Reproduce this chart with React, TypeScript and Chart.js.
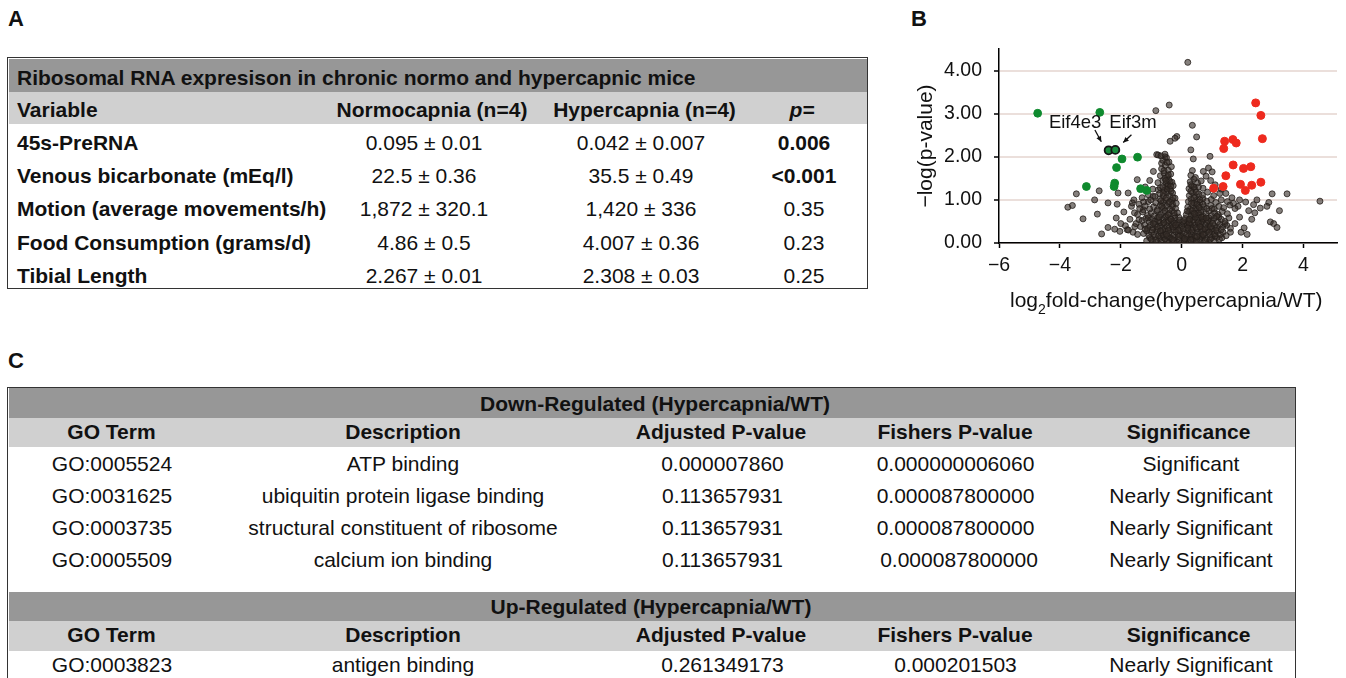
import React, { useEffect, useRef } from 'react';
import { Chart, registerables } from 'chart.js';

Chart.register(...registerables);

const FONT = '"Liberation Sans", Arial, Helvetica, sans-serif';

// ---------- Panel A data ----------
const tableATitle = 'Ribosomal RNA expresison in chronic normo and hypercapnic mice';
const tableAHeaders = ['Variable', 'Normocapnia (n=4)', 'Hypercapnia (n=4)', 'p='];
const variables = [
  '45s-PreRNA',
  'Venous bicarbonate (mEq/l)',
  'Motion (average movements/h)',
  'Food Consumption (grams/d)',
  'Tibial Length',
];
const normocapnia = ['0.095 ± 0.01', '22.5 ± 0.36', '1,872 ± 320.1', '4.86 ± 0.5', '2.267 ± 0.01'];
const hypercapnia = ['0.042 ± 0.007', '35.5 ± 0.49', '1,420 ± 336', '4.007 ± 0.36', '2.308 ± 0.03'];
const pValues = ['0.006', '<0.001', '0.35', '0.23', '0.25'];
const pBold = [true, true, false, false, false];

// ---------- Panel C data ----------
const goHeaders = ['GO Term', 'Description', 'Adjusted P-value', 'Fishers P-value', 'Significance'];
const downTitle = 'Down-Regulated (Hypercapnia/WT)';
const downTerms = ['GO:0005524', 'GO:0031625', 'GO:0003735', 'GO:0005509'];
const downDesc = ['ATP binding', 'ubiquitin protein ligase binding', 'structural constituent of ribosome', 'calcium ion binding'];
const downAdj = ['0.000007860', '0.113657931', '0.113657931', '0.113657931'];
const downFisher = ['0.000000006060', '0.000087800000', '0.000087800000', '0.000087800000'];
const downSig = ['Significant', 'Nearly Significant', 'Nearly Significant', 'Nearly Significant'];
const upTitle = 'Up-Regulated (Hypercapnia/WT)';
const upTerms = ['GO:0003823'];
const upDesc = ['antigen binding'];
const upAdj = ['0.261349173'];
const upFisher = ['0.000201503'];
const upSig = ['Nearly Significant'];

// ---------- Panel B data (log2 fold-change, -log p) ----------
const xTicks = [-6, -4, -2, 0, 2, 4];

const highlightedPoints: [number, number][] = [
  [-2.4, 2.15],
  [-2.18, 2.16],
];

const greenPoints: [number, number][] = [
  [-4.73, 3.01], [-2.69, 3.03], [-1.96, 1.95], [-1.45, 1.99], [-2.14, 1.75],
  [-3.13, 1.31], [-2.2, 1.39], [-2.22, 1.31], [-1.35, 1.26], [-1.15, 1.22],
];

const redPoints: [number, number][] = [
  [2.43, 3.25], [2.6, 2.96], [2.65, 2.42], [1.41, 2.36], [1.38, 2.19], [1.68, 2.4],
  [1.79, 2.32], [1.69, 1.81], [2.03, 1.73], [2.27, 1.77], [1.45, 1.56], [1.05, 1.27],
  [1.36, 1.31], [1.93, 1.36], [2.09, 1.22], [2.3, 1.34], [2.6, 1.41],
];

const grayPoints: [number, number][] = [
  // sparse outliers
  [0.2, 4.19], [-0.41, 3.2], [-0.85, 3.07], [0.35, 2.73], [-0.16, 2.47], [-0.38, 2.36],
  [-0.22, 2.43], [0.49, 2.46], [0.3, 2.16], [0.38, 1.95], [0.93, 2.01], [-0.82, 2.05],
  [0.71, 1.66], [0.88, 1.74], [-3.46, 1.14], [-2.71, 1.21], [-3.74, 0.83], [-3.59, 0.87],
  [-2.86, 1.0], [-3.24, 0.56], [-2.77, 0.67], [-2.42, 0.93], [-2.12, 0.9], [-2.63, 0.21],
  [-2.42, 0.36], [-2.2, 0.32], [-2.03, 0.27], [-2.15, 0.58], [-2.09, 1.16], [-1.76, 1.16],
  [-1.57, 1.0], [-0.93, 1.66], [-1.46, 1.47], [2.97, 1.14], [3.46, 1.14], [4.54, 0.97],
  [3.21, 0.75], [2.86, 0.94], [2.8, 0.85], [2.91, 0.49], [3.02, 0.45], [3.13, 0.36],
  [2.47, 1.0], [2.58, 0.81], [2.36, 0.89], [-1.65, 0.85], [-1.79, 0.31], [-1.54, 0.38],
  [-1.4, 0.54], [-1.26, 0.77], [-1.1, 0.96], [-0.94, 1.08], [-0.77, 1.23], [-0.77, 2.04],
  [-0.66, 1.85], [-0.55, 2.0],
  // halo left
  [-1.6, 0.25], [-1.5, 0.45], [-1.7, 0.55], [-1.55, 0.7], [-1.85, 0.4], [-1.4, 0.9],
  [-1.62, 0.93], [-1.3, 1.05], [-1.9, 0.72], [-1.45, 0.2], [-1.75, 0.3], [-2.0, 0.45],
  [-1.2, 1.3], [-1.05, 1.45],
  // halo right
  [1.6, 0.25], [1.75, 0.45], [1.9, 0.6], [2.05, 0.35], [2.2, 0.75], [1.85, 0.85],
  [2.1, 0.95], [1.65, 1.05], [2.3, 0.55], [1.45, 1.15], [1.3, 1.25], [1.95, 0.25],
  [2.4, 0.7], [2.15, 0.2], [1.1, 1.35], [0.95, 1.45], [1.0, 1.65], [0.8, 1.55],
  // core y 0-0.15
  [-1.05, 0.12], [-0.95, 0.05], [-0.88, 0.14], [-0.8, 0.03], [-0.72, 0.1], [-0.65, 0.02],
  [-0.58, 0.13], [-0.5, 0.06], [-0.43, 0.01], [-0.36, 0.11], [-0.29, 0.04], [-0.22, 0.13],
  [-0.15, 0.02], [-0.08, 0.08], [-0.02, 0.0], [0.05, 0.12], [0.11, 0.03], [0.18, 0.09],
  [0.25, 0.01], [0.31, 0.14], [0.38, 0.05], [0.45, 0.11], [0.52, 0.02], [0.6, 0.08],
  [0.67, 0.13], [0.74, 0.04], [0.82, 0.1], [0.9, 0.02], [0.98, 0.12], [1.06, 0.06],
  [1.15, 0.13], [1.24, 0.09],
  [-1.15, 0.05], [-1.0, 0.09], [-0.85, 0.07], [-0.68, 0.16], [-0.55, 0.09], [-0.4, 0.14],
  [-0.25, 0.06], [-0.05, 0.18], [0.08, 0.06], [0.22, 0.16], [0.35, 0.1], [0.48, 0.05],
  [0.62, 0.16], [0.78, 0.07], [0.94, 0.09], [1.1, 0.16], [1.32, 0.12],
  // core y 0.15-0.3
  [-1.25, 0.22], [-1.15, 0.28], [-1.08, 0.18], [-0.99, 0.25], [-0.91, 0.2], [-0.83, 0.29],
  [-0.76, 0.17], [-0.69, 0.24], [-0.61, 0.19], [-0.54, 0.27], [-0.47, 0.16], [-0.4, 0.23],
  [-0.33, 0.3], [-0.26, 0.18], [-0.19, 0.26], [-0.12, 0.2], [-0.05, 0.28], [0.02, 0.17],
  [0.09, 0.24], [0.16, 0.19], [0.23, 0.29], [0.3, 0.21], [0.37, 0.26], [0.44, 0.17],
  [0.51, 0.25], [0.58, 0.2], [0.65, 0.28], [0.72, 0.18], [0.79, 0.24], [0.86, 0.3],
  [0.93, 0.19], [1.0, 0.26], [1.08, 0.21], [1.17, 0.27], [1.27, 0.2], [1.36, 0.25],
  [1.46, 0.17],
  // core y 0.3-0.45
  [-1.35, 0.38], [-1.22, 0.42], [-1.12, 0.34], [-1.03, 0.41], [-0.94, 0.35], [-0.86, 0.44],
  [-0.78, 0.32], [-0.7, 0.39], [-0.62, 0.45], [-0.55, 0.33], [-0.48, 0.4], [-0.41, 0.36],
  [-0.34, 0.44], [-0.27, 0.31], [-0.2, 0.38], [-0.13, 0.43], [-0.06, 0.34], [0.01, 0.4],
  [0.08, 0.45], [0.15, 0.32], [0.22, 0.39], [0.29, 0.44], [0.36, 0.35], [0.43, 0.41],
  [0.5, 0.33], [0.57, 0.43], [0.64, 0.37], [0.71, 0.31], [0.78, 0.42], [0.85, 0.36],
  [0.92, 0.44], [0.99, 0.33], [1.07, 0.4], [1.16, 0.35], [1.25, 0.43], [1.35, 0.37],
  [1.48, 0.41], [1.6, 0.34],
  [-1.2, 0.32], [-0.97, 0.3], [-0.8, 0.37], [-0.63, 0.3], [-0.44, 0.29], [-0.28, 0.37],
  [-0.1, 0.3], [0.05, 0.33], [0.18, 0.42], [0.33, 0.3], [0.47, 0.36], [0.62, 0.45],
  [0.76, 0.33], [0.95, 0.38], [1.12, 0.3], [1.3, 0.31], [1.42, 0.45],
  // y 0.45-0.6
  [-1.3, 0.52], [-1.18, 0.57], [-1.06, 0.49], [-0.97, 0.55], [-0.88, 0.5], [-0.79, 0.59],
  [-0.7, 0.47], [-0.62, 0.54], [-0.54, 0.6], [-0.46, 0.48], [-0.38, 0.56], [-0.3, 0.51],
  [-0.22, 0.58], [-0.14, 0.47], [-0.06, 0.53], [0.04, 0.49], [0.12, 0.57], [0.2, 0.5],
  [0.28, 0.55], [0.35, 0.6], [0.42, 0.48], [0.5, 0.54], [0.58, 0.59], [0.66, 0.5],
  [0.74, 0.56], [0.82, 0.48], [0.9, 0.58], [0.98, 0.52], [1.07, 0.57], [1.18, 0.49],
  [1.3, 0.55], [1.42, 0.5], [1.55, 0.58],
  [-1.1, 0.58], [-0.93, 0.45], [-0.75, 0.52], [-0.58, 0.47], [-0.42, 0.52], [-0.26, 0.47],
  [-0.1, 0.6], [0.08, 0.52], [0.24, 0.46], [0.38, 0.53], [0.54, 0.47], [0.7, 0.55],
  [0.86, 0.52], [1.02, 0.46], [1.22, 0.6],
  // y 0.6-0.75
  [-1.45, 0.66], [-1.28, 0.72], [-1.12, 0.64], [-1.0, 0.7], [-0.9, 0.63], [-0.8, 0.74],
  [-0.7, 0.66], [-0.6, 0.71], [-0.5, 0.62], [-0.41, 0.69], [-0.32, 0.75], [-0.23, 0.64],
  [-0.14, 0.7], [0.15, 0.66], [0.23, 0.73], [0.31, 0.63], [0.39, 0.7], [0.47, 0.75],
  [0.55, 0.65], [0.63, 0.71], [0.71, 0.62], [0.8, 0.68], [0.89, 0.74], [0.98, 0.64],
  [1.08, 0.7], [1.2, 0.66], [1.33, 0.73], [1.5, 0.68],
  // y 0.75-0.9
  [-1.38, 0.8], [-1.2, 0.86], [-1.05, 0.79], [-0.92, 0.84], [-0.8, 0.77], [-0.7, 0.88],
  [-0.6, 0.81], [-0.5, 0.86], [-0.4, 0.78], [-0.3, 0.85], [-0.2, 0.8], [0.2, 0.83],
  [0.28, 0.78], [0.37, 0.87], [0.46, 0.8], [0.55, 0.85], [0.64, 0.77], [0.73, 0.84],
  [0.83, 0.8], [0.95, 0.87], [1.07, 0.79], [1.22, 0.85], [1.38, 0.82], [1.58, 0.88],
  [1.75, 0.8],
  // y 0.9-1.05
  [-1.25, 0.95], [-1.02, 1.0], [-0.85, 0.93], [-0.72, 1.02], [-0.62, 0.94], [-0.52, 1.0],
  [-0.42, 0.92], [-0.32, 0.99], [-0.22, 1.04], [0.22, 0.96], [0.31, 1.02], [0.4, 0.93],
  [0.5, 1.0], [0.6, 0.95], [0.7, 1.03], [0.82, 0.97], [0.97, 1.01], [1.12, 0.94],
  [1.3, 1.0], [1.5, 0.96], [1.7, 0.92], [1.9, 1.0],
  // y 1.05-1.2
  [-1.1, 1.12], [-0.88, 1.08], [-0.72, 1.15], [-0.6, 1.09], [-0.5, 1.17], [-0.4, 1.1],
  [-0.3, 1.16], [0.25, 1.1], [0.35, 1.17], [0.45, 1.08], [0.56, 1.14], [0.68, 1.11],
  [0.85, 1.18], [1.05, 1.1], [1.25, 1.15],
  // y 1.2-1.35
  [-0.95, 1.25], [-0.7, 1.28], [-0.58, 1.22], [-0.48, 1.31], [-0.38, 1.25], [-0.28, 1.33],
  [0.24, 1.26], [0.34, 1.32], [0.44, 1.24], [0.55, 1.3], [0.7, 1.27],
  // y 1.35-1.5
  [-0.78, 1.4], [-0.62, 1.45], [-0.52, 1.38], [-0.42, 1.47], [-0.32, 1.41], [0.28, 1.42],
  [0.4, 1.48], [0.52, 1.39], [0.64, 1.44],
  // y 1.5-1.65
  [-0.7, 1.56], [-0.58, 1.62], [-0.47, 1.54], [-0.36, 1.6], [0.3, 1.57], [0.45, 1.52],
  // y 1.65-2.1
  [-0.66, 1.72], [-0.54, 1.8], [-0.44, 1.69], [-0.34, 1.77], [0.35, 1.68],
  [-0.62, 1.92], [-0.5, 1.98], [-0.42, 1.88], [-0.68, 2.02], [-0.55, 2.06],
  // arm fill
  [-0.55, 1.5], [-0.45, 1.35], [-0.35, 1.2], [-0.6, 1.15], [-0.5, 1.05], [-0.4, 0.95],
  [-0.3, 0.9], [-0.55, 0.75], [-0.45, 0.65], [-0.35, 0.55], [-0.25, 0.7], [-0.65, 0.85],
  [-0.48, 1.25], [-0.38, 1.42], [0.3, 1.2], [0.4, 1.05], [0.5, 0.9], [0.35, 0.75],
  [0.45, 0.6], [0.25, 0.55], [0.55, 0.7], [0.6, 1.0], [0.4, 1.3],
  [-0.62, 1.3], [-0.52, 1.45], [-0.44, 1.58], [-0.58, 1.68], [-0.48, 1.87], [-0.36, 1.32],
  [-0.28, 1.05], [-0.18, 0.92], [-0.68, 0.98], [-0.75, 0.6], [0.3, 1.35], [0.48, 1.18],
  [0.58, 0.82], [0.7, 0.9], [0.32, 0.92], [0.42, 0.68], [0.18, 0.74], [0.66, 0.6],
  [0.8, 0.58], [1.0, 0.8], [1.15, 0.62],
  // core extra
  [-0.3, 0.08], [-0.1, 0.15], [0.1, 0.1], [0.3, 0.07], [0.5, 0.15], [0.7, 0.2],
  [-0.5, 0.2], [-0.7, 0.28], [0.9, 0.25], [0.2, 0.35], [-0.2, 0.42], [0.6, 0.38],
];

const geneLabels = [
  { text: 'Eif4e3', at: [-3.5, 2.66], from: [-2.85, 2.62], to: [-2.64, 2.35] },
  { text: 'Eif3m', at: [-1.6, 2.66], from: [-1.65, 2.51], to: [-1.92, 2.33] },
];

// ---------- helpers ----------
type TxtProps = {
  x: number; base: number; size?: number; bold?: boolean; italic?: boolean;
  center?: boolean; children: React.ReactNode;
};
function Txt({ x, base, size = 21, bold = false, italic = false, center = false, children }: TxtProps) {
  const style: React.CSSProperties = {
    position: 'absolute',
    top: base - size * 0.8465,
    fontSize: size,
    lineHeight: `${size}px`,
    fontWeight: bold ? 700 : 400,
    fontStyle: italic ? 'italic' : 'normal',
    whiteSpace: 'nowrap',
    color: '#111',
  };
  if (center) {
    style.left = x - 300;
    style.width = 600;
    style.textAlign = 'center';
  } else {
    style.left = x;
  }
  return <div style={style}>{children}</div>;
}

function Band({ top, height, left, width, color }: { top: number; height: number; left: number; width: number; color: string }) {
  return <div style={{ position: 'absolute', top, left, width, height, background: color }} />;
}

const DARK = '#979797';
const LIGHT = '#d0d0d0';

function TableA() {
  const rowBases = [150, 183, 216, 249.3, 282.3];
  return (
    <>
      <div style={{ position: 'absolute', left: 7, top: 57, width: 861, height: 232, border: '1.5px solid #333', boxSizing: 'border-box' }} />
      <Band top={58.5} height={33} left={8.5} width={858} color={DARK} />
      <Band top={91.5} height={32.5} left={8.5} width={858} color={LIGHT} />
      <Txt x={17} base={84.3} bold>{tableATitle}</Txt>
      <Txt x={17} base={116.7} bold>{tableAHeaders[0]}</Txt>
      <Txt x={432} base={116.7} bold center>{tableAHeaders[1]}</Txt>
      <Txt x={644.5} base={116.7} bold center>{tableAHeaders[2]}</Txt>
      <Txt x={802} base={116.7} bold italic center>{tableAHeaders[3]}</Txt>
      {variables.map((v, i) => (
        <React.Fragment key={v}>
          <Txt x={17} base={rowBases[i]} bold>{v}</Txt>
          <Txt x={424} base={rowBases[i]} center>{normocapnia[i]}</Txt>
          <Txt x={641} base={rowBases[i]} center>{hypercapnia[i]}</Txt>
          <Txt x={804} base={rowBases[i]} bold={pBold[i]} center>{pValues[i]}</Txt>
        </React.Fragment>
      ))}
    </>
  );
}

function TableC() {
  const colX = [112, 403, 722.5, 955.5, 1191];
  const hdrX = [111.5, 403, 721, 955, 1188.5];
  const downBases = [471, 502.6, 534.5, 566.7];
  const fisherShift = [0, 0, 0, 3.5];
  return (
    <>
      <div style={{ position: 'absolute', left: 7, top: 386.5, width: 1289, height: 320, border: '1.5px solid #333', boxSizing: 'border-box' }} />
      <Band top={388} height={29.5} left={8.5} width={1286} color={DARK} />
      <Band top={417.5} height={29.5} left={8.5} width={1286} color={LIGHT} />
      <Band top={592.3} height={28.7} left={8.5} width={1286} color={DARK} />
      <Band top={621} height={30} left={8.5} width={1286} color={LIGHT} />
      <Txt x={655} base={410.3} bold center>{downTitle}</Txt>
      {goHeaders.map((h, i) => (
        <Txt key={'dh' + h} x={hdrX[i]} base={438.5} bold center>{h}</Txt>
      ))}
      {downTerms.map((t, i) => (
        <React.Fragment key={t}>
          <Txt x={colX[0]} base={downBases[i]} center>{t}</Txt>
          <Txt x={colX[1]} base={downBases[i]} center>{downDesc[i]}</Txt>
          <Txt x={colX[2]} base={downBases[i]} center>{downAdj[i]}</Txt>
          <Txt x={colX[3] + fisherShift[i]} base={downBases[i]} center>{downFisher[i]}</Txt>
          <Txt x={colX[4]} base={downBases[i]} center>{downSig[i]}</Txt>
        </React.Fragment>
      ))}
      <Txt x={651} base={613.5} bold center>{upTitle}</Txt>
      {goHeaders.map((h, i) => (
        <Txt key={'uh' + h} x={hdrX[i]} base={641.8} bold center>{h}</Txt>
      ))}
      {upTerms.map((t, i) => (
        <React.Fragment key={t}>
          <Txt x={colX[0]} base={671.8} center>{t}</Txt>
          <Txt x={colX[1]} base={671.8} center>{upDesc[i]}</Txt>
          <Txt x={colX[2]} base={671.8} center>{upAdj[i]}</Txt>
          <Txt x={colX[3]} base={671.8} center>{upFisher[i]}</Txt>
          <Txt x={colX[4]} base={671.8} center>{upSig[i]}</Txt>
        </React.Fragment>
      ))}
    </>
  );
}

const labelPlugin = {
  id: 'geneLabels',
  afterDatasetsDraw(chart: any) {
    const { ctx, scales } = chart;
    const xs = scales.x;
    const ys = scales.y;
    ctx.save();
    ctx.font = `18.5px ${FONT}`;
    ctx.fillStyle = '#111';
    ctx.textAlign = 'center';
    ctx.textBaseline = 'alphabetic';
    ctx.strokeStyle = '#111';
    ctx.lineWidth = 1.3;
    for (const g of geneLabels) {
      ctx.fillStyle = '#111';
      ctx.fillText(g.text, xs.getPixelForValue(g.at[0]), ys.getPixelForValue(g.at[1]));
      const x1 = xs.getPixelForValue(g.from[0]);
      const y1 = ys.getPixelForValue(g.from[1]);
      const x2 = xs.getPixelForValue(g.to[0]);
      const y2 = ys.getPixelForValue(g.to[1]);
      ctx.beginPath();
      ctx.moveTo(x1, y1);
      ctx.lineTo(x2, y2);
      ctx.stroke();
      const ang = Math.atan2(y2 - y1, x2 - x1);
      const len = 6;
      ctx.beginPath();
      ctx.moveTo(x2, y2);
      ctx.lineTo(x2 - len * Math.cos(ang - 0.45), y2 - len * Math.sin(ang - 0.45));
      ctx.lineTo(x2 - len * Math.cos(ang + 0.45), y2 - len * Math.sin(ang + 0.45));
      ctx.closePath();
      ctx.fill();
    }
    ctx.restore();
  },
};

function Volcano() {
  const ref = useRef<HTMLCanvasElement>(null);
  useEffect(() => {
    const toXY = (arr: [number, number][]) => arr.map(([x, y]) => ({ x, y }));
    const chart = new Chart(ref.current as HTMLCanvasElement, {
      type: 'scatter',
      data: {
        datasets: [
          {
            label: 'Eif genes',
            data: toXY(highlightedPoints),
            pointRadius: 4,
            backgroundColor: '#17893a',
            borderColor: '#151515',
            borderWidth: 1.8,
          },
          {
            label: 'Down',
            data: toXY(greenPoints),
            pointRadius: 3.9,
            backgroundColor: '#0f8a2e',
            borderColor: '#0f8a2e',
            borderWidth: 1,
          },
          {
            label: 'Up',
            data: toXY(redPoints),
            pointRadius: 4,
            backgroundColor: '#ee2a1e',
            borderColor: '#ee2a1e',
            borderWidth: 1,
          },
          {
            label: 'NS',
            data: toXY(grayPoints),
            pointRadius: 3,
            backgroundColor: 'rgba(52,44,39,0.6)',
            borderColor: 'rgba(36,30,26,0.8)',
            borderWidth: 1,
          },
        ],
      },
      options: {
        animation: false,
        responsive: false,
        events: [],
        layout: { padding: { top: 9, right: 9, bottom: 0, left: 0 } },
        plugins: { legend: { display: false }, tooltip: { enabled: false } },
        scales: {
          x: {
            type: 'linear',
            min: -6,
            max: 5.1,
            afterBuildTicks: (s: any) => {
              s.ticks = xTicks.map((v) => ({ value: v }));
            },
            ticks: {
              font: { family: FONT, size: 19.5 },
              color: '#111',
              padding: 6,
              maxRotation: 0,
              callback: (v: any) => (Number(v) < 0 ? '\u2212' + Math.abs(Number(v)) : String(v)),
            },
            grid: { drawOnChartArea: false, tickLength: 5, tickColor: '#000', tickWidth: 1.5 },
            border: { color: '#000', width: 1.5 },
            afterFit: (s: any) => {
              s.height = 47;
              s.paddingLeft = 0;
              s.paddingRight = 0;
            },
          },
          y: {
            type: 'linear',
            min: 0,
            max: 4.5,
            ticks: {
              stepSize: 0.5,
              font: { family: FONT, size: 19.5 },
              color: '#111',
              padding: 12,
              callback: (v: any) => (Math.abs(Number(v) - Math.round(Number(v))) < 1e-6 ? Number(v).toFixed(2) : ''),
            },
            grid: { color: '#ebdfdb', lineWidth: 2, tickLength: 5, tickColor: '#000', tickWidth: 1.5 },
            border: { color: '#000', width: 1.5 },
            title: {
              display: true,
              text: '\u2212log(p-value)',
              font: { family: FONT, size: 21 },
              color: '#111',
              padding: { top: 9, bottom: 0 },
            },
            afterFit: (s: any) => {
              s.width = 94;
              s.paddingTop = 0;
              s.paddingBottom = 0;
            },
          },
        },
      },
      plugins: [labelPlugin],
    } as any);
    return () => chart.destroy();
  }, []);
  return (
    <canvas
      ref={ref}
      width={441}
      height={250}
      style={{ position: 'absolute', left: 905, top: 40, width: 441, height: 250 }}
    />
  );
}

export default function App() {
  return (
    <div
      style={{
        position: 'absolute',
        left: 0,
        top: 0,
        width: 1346,
        height: 678,
        overflow: 'hidden',
        background: '#fff',
        fontFamily: FONT,
        color: '#111',
      }}
    >
      <Txt x={8} base={26.7} size={22} bold>A</Txt>
      <Txt x={911} base={26.7} size={22} bold>B</Txt>
      <Txt x={8} base={368.3} size={22} bold>C</Txt>
      <TableA />
      <Volcano />
      <div
        style={{
          position: 'absolute',
          left: 1010,
          top: 306.7 - 21 * 0.8465,
          fontSize: 21,
          lineHeight: '21px',
          whiteSpace: 'nowrap',
          color: '#111',
        }}
      >
        log<span style={{ fontSize: 14, position: 'relative', top: 7, lineHeight: 0 }}>2</span>fold-change(hypercapnia/WT)
      </div>
      <TableC />
    </div>
  );
}
